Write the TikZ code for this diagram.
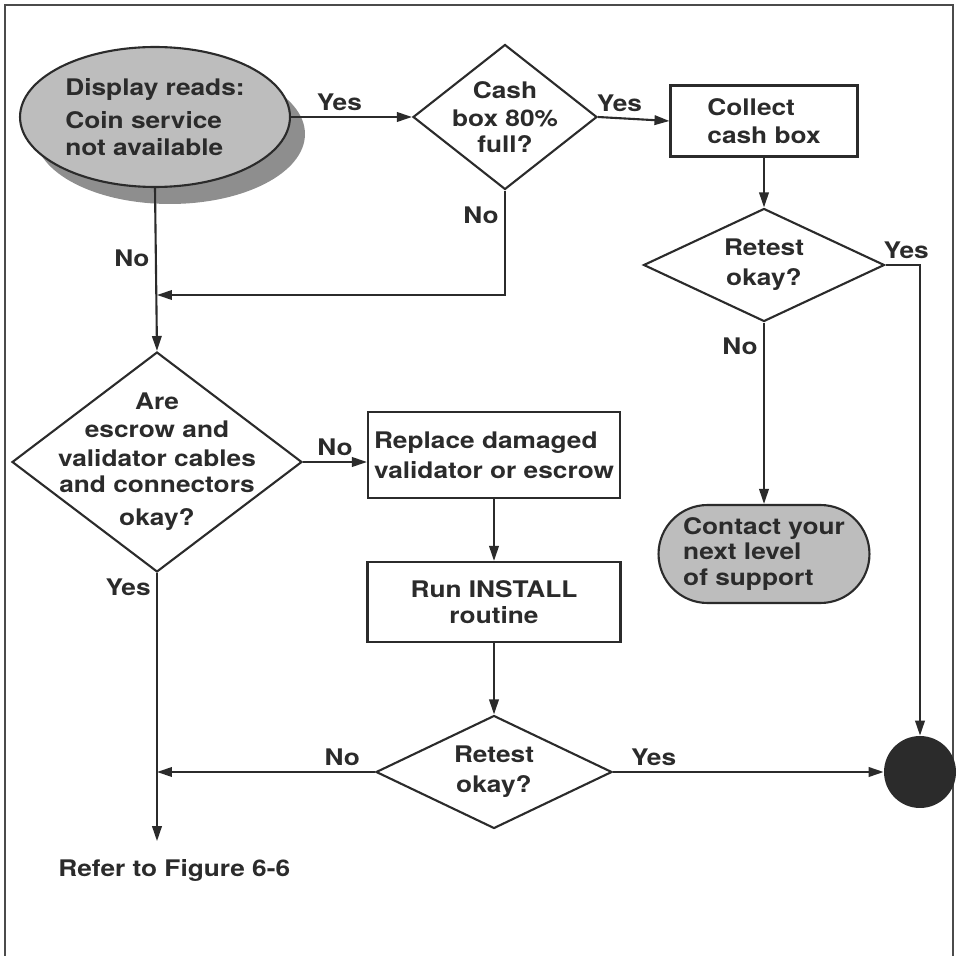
\documentclass[tikz,border=0pt]{standalone}
\usepackage{fontspec}
\setmainfont[FakeStretch=1.15]{TeX Gyre Heros}
\usetikzlibrary{arrows.meta, positioning, shapes.geometric, shapes.misc, shadows}
\definecolor{chartink}{HTML}{2B2B2B}
\definecolor{chartgrey}{HTML}{BDBDBD}
\definecolor{chartshade}{HTML}{8E8E8E}
\tikzset{
  >={Triangle[length=3mm, width=1.9mm]},
  every node/.style={font=\fontsize{13}{16}\selectfont\bfseries, text=chartink},
  box/.style={rectangle, draw=chartink, line width=1.2pt, inner sep=3pt},
  dia/.style={diamond, draw=chartink, line width=1.2pt, inner sep=0pt},
  term/.style={draw=chartink, line width=1.2pt, fill=chartgrey, inner sep=2pt},
  flow/.style={->, line width=1.2pt, draw=chartink},
  lbl/.style={inner sep=3pt},
  frame/.style={draw=chartink!85, line width=1.4pt},
}

\begin{document}
\begin{tikzpicture}[x=0.02cm, y=-0.02cm]
  \useasboundingbox (0,0) rectangle (957,956);
  \draw[frame] (5,956) -- (5,5) -- (953,5) -- (953,956);

  \node[term, ellipse, minimum width=5.4cm, minimum height=2.8cm, align=left,
        drop shadow={shadow xshift=0.3cm, shadow yshift=-0.34cm, fill=chartshade, opacity=1}]
        (disp) at (155,117) {Display reads:\\[3pt]Coin service\\[-1pt]not available};
  \node[dia, minimum width=3.68cm, minimum height=2.9cm,
        label={[align=center]center:Cash\\box 80\%\\[-1pt]full?}] (cash) at (505,117) {};
  \node[box, minimum width=3.74cm, minimum height=1.42cm, align=left] (collect) at (764,121) {Collect\\cash box};
  \node[dia, minimum width=4.82cm, minimum height=2.26cm,
        label={[align=center]center:Retest\\[1pt]okay?}] (rtone) at (764,265) {};
  \node[term, rounded rectangle, minimum width=4.36cm, minimum height=1.96cm, align=left,
        font=\fontsize{13}{14.5}\selectfont\bfseries] (contact) at (764,554) {Contact your\\next level\\of support};
  \node[circle, fill=chartink, minimum size=1.44cm, inner sep=0pt] (dot) at (920,772) {};
  \node[dia, minimum width=5.8cm, minimum height=4.4cm,
        label={[align=center]center:Are\\escrow and\\validator cables\\[-1pt]and connectors\\[3pt]okay?}] (are) at (157,462) {};
  \node[box, minimum width=5.04cm, minimum height=1.72cm, inner xsep=1pt, align=left] (repl) at (494,455) {Replace damaged\\[1pt]validator or escrow};
  \node[box, minimum width=5.06cm, minimum height=1.6cm, align=center,
        font=\fontsize{13}{15}\selectfont\bfseries] (inst) at (494,602) {Run INSTALL\\routine};
  \node[dia, minimum width=4.72cm, minimum height=2.26cm,
        label={[align=center]center:Retest\\[1pt]okay?}] (rttwo) at (494,772) {};
  \node[anchor=west, inner sep=0pt] (refer) at (58,870) {Refer to Figure 6-6};
  \coordinate (mrg) at (157,295);

  \draw[flow] (disp.east) -- node[lbl, above, pos=0.4] {Yes} (cash.west);
  \draw[flow] (cash.east) -- node[lbl, above, pos=0.3] {Yes} (collect.west);
  \draw[flow] (cash.south) |- node[lbl, left, pos=0.12] {No} (mrg);
  \draw[flow] (disp.south) -- node[lbl, left, pos=0.43] {No} (are.north);
  \draw[flow] (collect.south) -- (rtone.north);
  \draw[flow] (rtone.east) -| node[lbl, above, pos=0.3] {Yes} (dot.north);
  \draw[flow] (rtone.south) -- node[lbl, left, pos=0.13] {No} (contact.north);
  \draw[flow] (are.east) -- node[lbl, above] {No} (are.east -| repl.west);
  \draw[flow] (repl.south) -- (inst.north);
  \draw[flow] (inst.south) -- (rttwo.north);
  \draw[flow] (rttwo.west) -- node[lbl, above, pos=0.15] {No} (rttwo.west -| are.south);
  \draw[flow] (rttwo.east) -- node[lbl, above, pos=0.15] {Yes} (dot.west);
  \draw[flow, shorten >=3.5mm] (are.south) -- node[lbl, left, pos=0.05] {Yes} (are.south |- refer.north);
\end{tikzpicture}
\end{document}
